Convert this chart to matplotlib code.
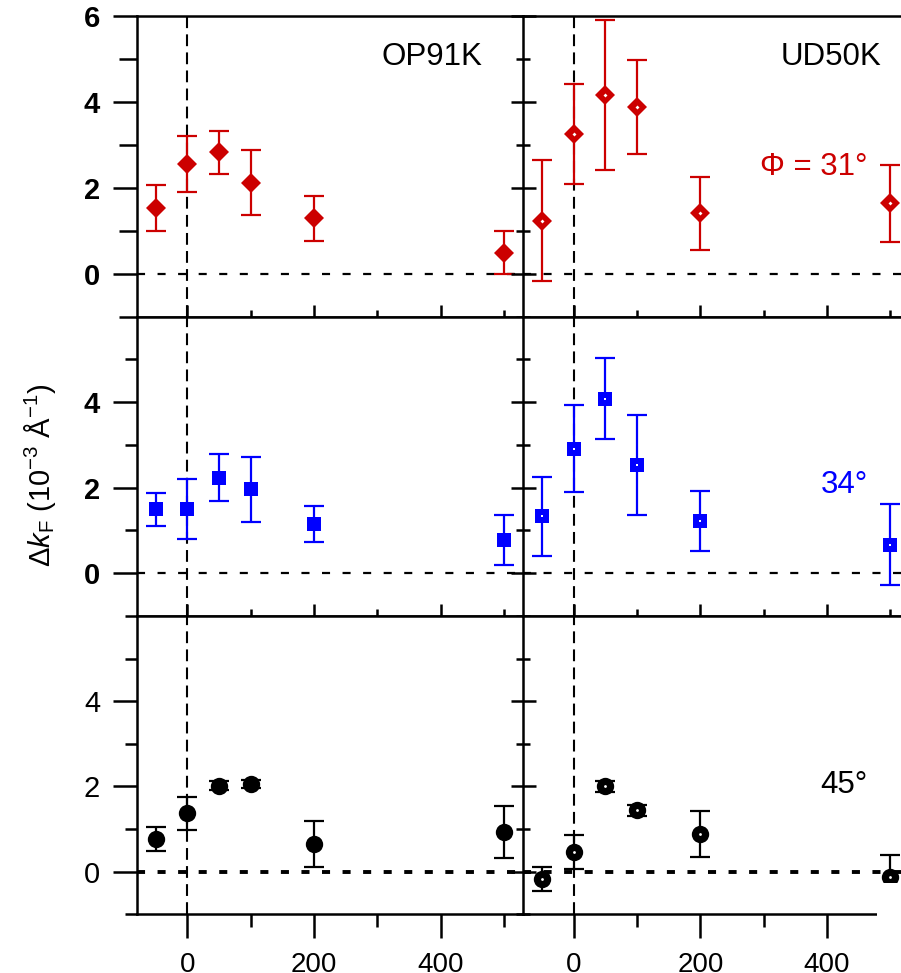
import matplotlib
matplotlib.use('Agg')
import matplotlib.pyplot as plt
from matplotlib.patches import Rectangle
from matplotlib.ticker import FixedLocator, NullFormatter

plt.rcParams['font.family'] = ['Liberation Sans', 'DejaVu Sans']
plt.rcParams['mathtext.fontset'] = 'custom'
plt.rcParams['mathtext.rm'] = 'Liberation Sans'
plt.rcParams['mathtext.it'] = 'Liberation Sans:italic'
plt.rcParams['lines.scale_dashes'] = False

# delay (x) shared by every series
delay = [-50, 0, 50, 100, 200, 500]

# OP91K (left column)
op_31 = [1.53, 2.55, 2.83, 2.12, 1.29, 0.49]
op_31_err = [0.53, 0.65, 0.50, 0.75, 0.52, 0.50]
op_34 = [1.49, 1.50, 2.23, 1.96, 1.15, 0.78]
op_34_err = [0.38, 0.70, 0.55, 0.76, 0.42, 0.58]
op_45 = [0.77, 1.37, 2.02, 2.06, 0.65, 0.92]
op_45_err = [0.28, 0.39, 0.11, 0.10, 0.55, 0.61]

# UD50K (right column)
ud_31 = [1.23, 3.25, 4.16, 3.88, 1.40, 1.64]
ud_31_err = [1.41, 1.16, 1.74, 1.10, 0.86, 0.90]
ud_34 = [1.33, 2.91, 4.08, 2.52, 1.22, 0.67]
ud_34_err = [0.92, 1.02, 0.95, 1.17, 0.69, 0.95]
ud_45 = [-0.17, 0.46, 2.00, 1.44, 0.89, -0.12]
ud_45_err = [0.28, 0.40, 0.12, 0.13, 0.54, 0.52]

samples = ['OP91K', 'UD50K']
angle_labels = ['Φ = 31°', '34°', '45°']
colors = ['#cc0000', '#0000ff', 'black']
markers = ['D', 's', 'o']
msizes = [10, 10.5, 12.5]

series = [[(op_31, op_31_err), (ud_31, ud_31_err)],
          [(op_34, op_34_err), (ud_34, ud_34_err)],
          [(op_45, op_45_err), (ud_45, ud_45_err)]]

W, H = 901, 973
fig = plt.figure(figsize=(W / 100, H / 100), dpi=100)


def box(left, top, w, h):
    return [left / W, 1 - (top + h) / H, w / W, h / H]


col_left = [136.7, 523.0]
col_w = 386.3
row_top = [16.0, 316.5, 616.0]
row_h = [300.5, 299.5, 298.3]
lw = 1.8

for i in range(3):
    for j in range(2):
        ax = fig.add_axes(box(col_left[j], row_top[i], col_w, row_h[i]))
        ax.set_xlim(-80, 530)
        ax.set_ylim(-1, 6)
        for s in ax.spines.values():
            s.set_linewidth(lw)
        ax.spines['right'].set_visible(False)

        ax.axhline(0, color='black', lw=2.8 if i == 2 else 1.6,
                   dashes=(5.8, 9.0), zorder=1)
        ax.axvline(0, color='black', lw=1.5, dashes=(8.5, 4.5), zorder=1)

        y, e = series[i][j]
        ax.errorbar(delay, y, yerr=e, fmt='none', ecolor=colors[i],
                    elinewidth=1.6, capsize=7.5, capthick=1.6, zorder=3,
                    clip_on=False)
        ax.plot(delay, y, markers[i], color=colors[i], ms=msizes[i], mew=0,
                zorder=4, clip_on=False)
        if j == 1:
            ax.plot(delay, y, markers[i], color='white', ms=2.0, mew=0,
                    zorder=5, clip_on=False)

        # y ticks
        ax.yaxis.set_major_locator(FixedLocator([0, 2, 4, 6] if i == 0 else [0, 2, 4]))
        ax.yaxis.set_minor_locator(FixedLocator([-1, 1, 3, 5]))
        ax.yaxis.set_minor_formatter(NullFormatter())
        if j == 0:
            ax.tick_params(axis='y', which='major', direction='out', length=17.3,
                           width=lw, pad=9, labelsize=21)
            ax.tick_params(axis='y', which='minor', direction='out',
                           length=13 if i == 0 else 8.6, width=lw)
            for t in ax.get_yticklabels():
                t.set_fontweight('bold' if i < 2 else 'normal')
        else:
            ax.tick_params(axis='y', which='major', direction='inout', length=18,
                           width=lw, labelleft=False)
            ax.tick_params(axis='y', which='minor', direction='inout', length=10,
                           width=lw)

        # x ticks
        ax.xaxis.set_major_locator(FixedLocator([0, 200, 400]))
        ax.xaxis.set_minor_locator(FixedLocator([100, 300, 500]))
        ax.xaxis.set_minor_formatter(NullFormatter())
        if i < 2:
            ax.tick_params(axis='x', which='major', direction='inout', length=18,
                           width=lw, labelbottom=False)
            ax.tick_params(axis='x', which='minor', direction='inout', length=9.4,
                           width=lw)
        else:
            ax.tick_params(axis='x', which='major', direction='out', length=17.3,
                           width=lw, pad=10, labelsize=20)
            ax.tick_params(axis='x', which='minor', direction='out', length=9.4,
                           width=lw)
            if j == 1:
                ax.spines['bottom'].set_bounds(-80, 479.5)

        if i == 0:
            ax.text(0.894 if j == 0 else 0.9285, 0.837, samples[j],
                    transform=ax.transAxes, ha='right', va='baseline',
                    fontsize=22.5, color='black')
        if j == 1:
            ax.text(0.893, [0.471, 0.41, 0.408][i], angle_labels[i],
                    transform=ax.transAxes, ha='right', va='baseline',
                    fontsize=22.5, color=colors[i])

fig.text(40 / W, 1 - 475 / H, r'$\Delta k_\mathrm{F}$ (10$^{-3}$ Å$^{-1}$)',
         rotation=90, ha='center', va='center', fontsize=21)

# white mask over the cropped lower-right corner
fig.patches.append(Rectangle((877 / W, 0), 1 - 877 / W, (H - 883) / H,
                             transform=fig.transFigure, facecolor='white',
                             edgecolor='none', zorder=10))

fig.savefig('out.png', dpi=100)
